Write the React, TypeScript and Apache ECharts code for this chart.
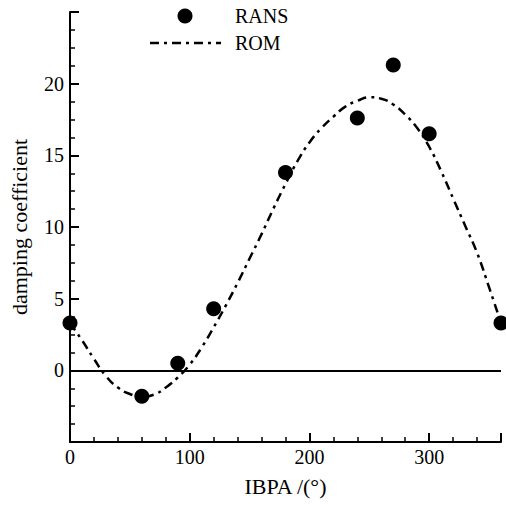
import React, { useEffect, useRef } from "react";
import * as echarts from "echarts";

const RANS_X = [0, 60, 90, 120, 180, 240, 270, 300, 360];
const RANS_Y = [3.3, -1.8, 0.5, 4.3, 13.8, 17.6, 21.3, 16.5, 3.3];

const ROM_X = [0, 10, 20, 30, 40, 50, 60, 70, 80, 90, 100, 110, 120, 130, 140, 150, 160, 170, 180, 190, 200, 210, 220, 230, 240, 250, 260, 270, 280, 290, 300, 310, 320, 330, 340, 350, 360];
const ROM_Y = [3.3, 2.1, 0.8, -0.4, -1.2, -1.65, -1.85, -1.7, -1.2, -0.5, 0.4, 1.6, 3.0, 4.5, 6.1, 7.8, 9.5, 11.3, 13.0, 14.6, 15.9, 16.9, 17.7, 18.4, 18.8, 19.05, 18.95, 18.55, 17.85, 16.9, 15.6, 13.9, 12.0, 10.1, 8.2, 5.8, 3.3];

const X_TICKS_HIDDEN = [360];
const Y_TICKS_HIDDEN = [-5, 25];
const LEGEND_NAMES = ["RANS", "ROM"];

const FONT = "Liberation Serif";
const DASH = [9, 5, 3, 5];

export default function App() {
  const ref = useRef<HTMLDivElement>(null);
  useEffect(() => {
    if (!ref.current) return;
    const chart = echarts.init(ref.current, null, { renderer: "svg" });
    const axisLine = { show: true, onZero: false, lineStyle: { color: "#000", width: 2 } };
    const axisTick = { show: true, inside: true, length: 9, lineStyle: { color: "#000", width: 2 } };
    const minorStyle = { show: true, length: 5, lineStyle: { color: "#000", width: 1.5 } };
    const labelStyle = { color: "#000", fontFamily: FONT, fontSize: 20 };
    const nameStyle = { color: "#000", fontFamily: FONT, fontSize: 22 };
    chart.setOption({
      animation: false,
      backgroundColor: "#fff",
      textStyle: { fontFamily: FONT },
      grid: { left: 68, right: 5, top: 12, bottom: 63, containLabel: false },
      xAxis: {
        type: "value",
        min: 0,
        max: 360,
        interval: 100,
        name: "IBPA /(°)",
        nameLocation: "middle",
        nameGap: 33,
        minorTick: { ...minorStyle, splitNumber: 5 },
        axisLine,
        axisTick,
        splitLine: { show: false },
        nameTextStyle: nameStyle,
        axisLabel: {
          ...labelStyle,
          margin: 5,
          formatter: (v: number) => (X_TICKS_HIDDEN.includes(v) ? "" : String(v)),
        },
      },
      yAxis: {
        type: "value",
        min: -5,
        max: 25,
        interval: 5,
        name: "damping coefficient",
        nameLocation: "middle",
        nameGap: 40,
        nameRotate: 90,
        minorTick: { ...minorStyle, splitNumber: 4 },
        axisLine,
        axisTick,
        splitLine: { show: false },
        nameTextStyle: nameStyle,
        axisLabel: {
          ...labelStyle,
          margin: 6,
          formatter: (v: number) => (Y_TICKS_HIDDEN.includes(v) ? "" : String(v)),
        },
      },
      graphic: [
        { type: "circle", shape: { cx: 185, cy: 16, r: 7.5 }, style: { fill: "#000" } },
        {
          type: "line",
          shape: { x1: 150, y1: 43, x2: 221, y2: 43 },
          style: { stroke: "#000", lineWidth: 2.5, lineDash: DASH },
        },
        {
          type: "text",
          x: 235,
          y: 16,
          style: { text: LEGEND_NAMES[0], fill: "#000", fontFamily: FONT, fontSize: 20, verticalAlign: "middle" },
        },
        {
          type: "text",
          x: 235,
          y: 43,
          style: { text: LEGEND_NAMES[1], fill: "#000", fontFamily: FONT, fontSize: 20, verticalAlign: "middle" },
        },
      ],
      series: [
        {
          name: "ROM",
          type: "line",
          smooth: true,
          symbol: "none",
          showSymbol: false,
          data: ROM_X.map((x, i) => [x, ROM_Y[i]]),
          lineStyle: { color: "#000", width: 2.5, type: DASH },
          itemStyle: { color: "#000" },
          markLine: {
            silent: true,
            symbol: "none",
            label: { show: false },
            lineStyle: { color: "#000", width: 2, type: "solid" },
            data: [{ yAxis: 0 }],
          },
          z: 2,
        },
        {
          name: "RANS",
          type: "scatter",
          symbol: "circle",
          symbolSize: 15,
          data: RANS_X.map((x, i) => [x, RANS_Y[i]]),
          itemStyle: { color: "#000", opacity: 1 },
          z: 3,
        },
      ],
    });
    return () => chart.dispose();
  }, []);
  return (
    <div
      ref={ref}
      style={{ position: "absolute", left: 0, top: 0, width: 506, height: 505 }}
    />
  );
}
